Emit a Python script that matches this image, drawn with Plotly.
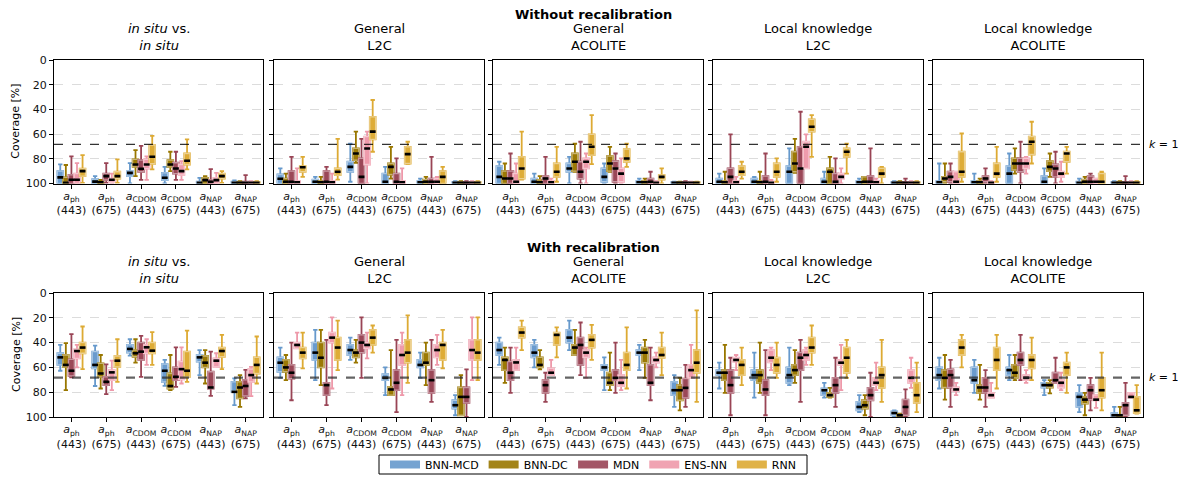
import plotly.graph_objects as go

# ---------------------------------------------------------------- labels
CATEGORIES = [
    "<i>a</i><sub>ph</sub><br>(443)",
    "<i>a</i><sub>ph</sub><br>(675)",
    "<i>a</i><sub>CDOM</sub><br>(443)",
    "<i>a</i><sub>CDOM</sub><br>(675)",
    "<i>a</i><sub>NAP</sub><br>(443)",
    "<i>a</i><sub>NAP</sub><br>(675)",
]
MODELS = ["BNN-MCD", "BNN-DC", "MDN", "ENS-NN", "RNN"]
COLORS = ["#6699CC", "#997700", "#994455", "#EE99AA", "#DDAA33"]
COLUMN_TITLES = [
    "<i>in situ</i> vs.<br><i>in situ</i>",
    "General<br>L2C",
    "General<br>ACOLITE",
    "Local knowledge<br>L2C",
    "Local knowledge<br>ACOLITE",
]
ROW_TITLES = ["Without recalibration", "With recalibration"]
Y_TICKS = [0, 20, 40, 60, 80, 100]
K1_COVERAGE = 68.27  # expected coverage of a 1-sigma interval

# ------------------------------------------------ coverage statistics [%]
# one list per model (order of MODELS), one tuple per category:
# (lower whisker, Q1, median, Q3, upper whisker)

raw_insitu = [
    [(84.5, 90, 95, 100, 100), (94, 96.5, 98.5, 100, 100), (83.5, 90, 91.4, 94, 100), (86.5, 91.4, 95.4, 97.3, 100), (95.4, 98.5, 99.5, 100, 100), (97.5, 98.5, 99.5, 100, 100)],
    [(85, 95, 99.5, 100, 100), (97, 98.6, 99, 100, 100), (73, 80.5, 84.6, 86.5, 94), (74.3, 81, 84.6, 86.5, 90), (94, 95.5, 97.3, 100, 100), (98, 99, 99.5, 100, 100)],
    [(78, 93, 97, 100, 100), (83.5, 92, 94, 97, 99.5), (69.5, 81, 88, 90.5, 97), (74.3, 83.2, 87.8, 92, 97), (88.4, 97, 98.6, 100, 100), (93.2, 98.5, 99.5, 100, 100)],
    [(83.5, 92, 97, 100, 100), (92, 96, 97, 99, 100), (78, 80.5, 84.6, 88, 97), (82, 84.6, 90, 93, 97), (91.4, 95.4, 97.3, 100, 100), (98, 99, 99.5, 100, 100)],
    [(77, 88, 90, 94, 99.5), (80.5, 90.5, 94, 96, 99.5), (61.4, 69, 78.4, 84, 88.6), (64.3, 75.7, 81.6, 84.6, 88.6), (90, 92, 94, 96, 99.5), (98, 99, 99.5, 100, 100)],
]
raw_general_l2c = [
    [(87.8, 92.7, 96.2, 100, 100), (94.6, 96.8, 98.6, 100, 100), (67.8, 82.4, 86.5, 90.5, 98.6), (86.5, 92, 98.6, 100, 100), (96, 98, 99, 100, 100), (98, 99, 99.5, 100, 100)],
    [(92, 96, 98.6, 100, 100), (94.6, 98, 99, 100, 100), (58, 71.6, 75.7, 81, 83.2), (70.3, 83.8, 86.5, 92.7, 96), (94.6, 96.8, 98.6, 100, 100), (98, 99, 99.5, 100, 100)],
    [(78.4, 90, 98.6, 100, 100), (86.5, 90, 98.6, 100, 100), (63.8, 79.7, 94.6, 100, 100), (79.7, 92, 98.6, 100, 100), (78.4, 96, 98.6, 100, 100), (98, 99, 99.5, 100, 100)],
    [(87.8, 98, 99, 100, 100), (92, 98, 99, 100, 100), (58, 62, 71.6, 84.6, 100), (87.8, 98, 99, 100, 100), (94.6, 96, 98.6, 100, 100), (98, 99, 99.5, 100, 100)],
    [(78.4, 86, 86.8, 90.5, 94.6), (63.8, 87.8, 90.5, 93.2, 96.8), (32.4, 46, 58, 64.3, 74.3), (66.2, 70.3, 76.2, 83.8, 84.3), (86.5, 90, 94.6, 100, 100), (98, 99, 99.5, 100, 100)],
]
raw_general_acolite = [
    [(82.4, 86, 94.6, 100, 100), (92, 96, 98.6, 100, 100), (78.4, 83.8, 87.8, 90.5, 100), (83.8, 87.8, 94.6, 98.6, 100), (96, 98, 99, 100, 100), (98.5, 99, 99.5, 100, 100)],
    [(83.8, 90, 96, 100, 100), (94, 97, 99, 100, 100), (67.8, 75.7, 82.4, 90, 90.5), (70.3, 77.8, 83.8, 90, 90.5), (96, 98, 99, 100, 100), (98.5, 99, 99.5, 100, 100)],
    [(75.7, 90, 96, 100, 100), (78.4, 94, 96, 100, 100), (66.2, 82.4, 90.5, 96, 100), (75.7, 82, 87.8, 98.6, 100), (90.5, 96, 98.6, 100, 100), (98, 99, 99.5, 100, 100)],
    [(83.8, 92, 98.6, 100, 100), (96, 98, 99, 100, 100), (75.7, 79.7, 82.4, 87.8, 100), (79.7, 87.8, 92, 98.6, 100), (98, 99, 99.5, 100, 100), (98.5, 99, 99.5, 100, 100)],
    [(58, 78.4, 87.8, 96, 96.8), (70.3, 83.8, 90.5, 94.6, 98.6), (44.6, 60.3, 70.3, 77, 84.3), (67.8, 72.2, 79.7, 82.4, 86.5), (87.8, 93.2, 94.6, 96.8, 100), (98.5, 99, 99.5, 100, 100)],
]
raw_local_l2c = [
    [(92, 96, 98.6, 100, 100), (94.6, 96, 98.6, 100, 100), (71.6, 86, 90.5, 100, 100), (90.5, 96, 98.6, 100, 100), (96, 98, 99, 100, 100), (98, 99, 99.5, 100, 100)],
    [(90.5, 98, 99, 100, 100), (90.5, 98, 99, 100, 100), (63.8, 74.3, 83.8, 90.5, 91.4), (78.4, 87.8, 90.5, 100, 100), (94.6, 94.6, 98.6, 100, 100), (98, 99, 99.5, 100, 100)],
    [(60.3, 87.8, 94.6, 100, 100), (75.7, 94, 98.6, 100, 100), (41.9, 70.3, 87.8, 100, 100), (79.7, 92, 98.6, 100, 100), (71.6, 94, 98.6, 100, 100), (96, 99, 99.5, 100, 100)],
    [(94.6, 98, 99, 100, 100), (97, 98.5, 99.5, 100, 100), (60.3, 66.2, 70.3, 87.8, 87.8), (87.8, 92, 94.6, 96, 100), (96, 98, 99, 100, 100), (98, 99, 99.5, 100, 100)],
    [(82.4, 86, 90.5, 93.2, 96), (79.7, 83.8, 90.5, 94.6, 98.6), (44.6, 48, 54, 58, 78.4), (67.8, 71.6, 74.3, 78.4, 92), (86.5, 87.8, 92, 94.6, 100), (98, 99, 99.5, 100, 100)],
]
raw_local_acolite = [
    [(83.8, 98, 99, 100, 100), (92, 98, 99, 100, 100), (75.7, 86, 92, 100, 100), (87.8, 94, 98.6, 100, 100), (96, 98.5, 99.5, 100, 100), (98, 99, 99.5, 100, 100)],
    [(83.8, 94.6, 96, 98.6, 100), (96, 98, 99, 100, 100), (71.6, 79.7, 83.8, 89, 92), (75.7, 81.9, 86.5, 90, 94.6), (94.6, 96.8, 98.6, 100, 100), (98, 99, 99.5, 100, 100)],
    [(83.8, 90.5, 94.6, 98.6, 100), (87.8, 94, 96, 98.6, 100), (66.2, 79.7, 83.8, 90.5, 100), (74.3, 84.6, 87.8, 94.6, 100), (92, 94, 98.6, 100, 100), (94, 99, 99.5, 100, 100)],
    [(90.5, 90.5, 98.6, 100, 100), (98, 99, 99.5, 100, 100), (78.4, 79.7, 83.8, 87.8, 92), (82.4, 90.5, 92, 94.6, 98.6), (96, 96, 98.6, 100, 100), (98, 99, 99.5, 100, 100)],
    [(59.5, 74.3, 90.5, 94.6, 98.6), (70.3, 83.8, 92, 94.6, 98.6), (50, 62, 66.2, 76.5, 83.8), (70.3, 74.3, 75.7, 82.4, 92), (90.5, 92, 98.6, 100, 100), (98, 99, 99.5, 100, 100)],
]

recal_insitu = [
    [(41.9, 48.6, 51.9, 58, 62.7), (42.4, 47.3, 58, 60.8, 75), (37.3, 41.9, 45.1, 48.1, 50.5), (54, 57.3, 62.7, 71.6, 74.9), (46, 50, 51.9, 55.4, 66.2), (68.9, 71.6, 79.7, 79.7, 90.5)],
    [(40.5, 50, 58, 59.5, 78.4), (50, 56.8, 64.9, 67.6, 77), (37.3, 46, 48.6, 51.4, 56.2), (50, 64.9, 75, 77, 78.4), (46, 50.8, 56.2, 60, 73), (66.2, 71.6, 76.2, 85, 91.9)],
    [(33.2, 53.5, 62.7, 66.8, 68.1), (57.6, 67.6, 71.6, 74.3, 81.6), (34.6, 40, 47.3, 54, 67.6), (43.8, 60, 67.6, 70.3, 75.7), (47.3, 63.5, 76.2, 77, 83), (62, 70, 75, 83, 85)],
    [(41.9, 45.4, 46.8, 52.7, 60), (54.6, 62.2, 64, 70.3, 78.4), (37.3, 41.9, 43.8, 48.6, 58), (43.8, 55.4, 61.4, 69.7, 73), (48.6, 52.7, 54.6, 59.5, 59.5), (59.5, 61.4, 66.2, 71.6, 83.2)],
    [(27, 40, 44, 48.6, 61.4), (37.3, 50.8, 54.6, 59.5, 71.6), (31.6, 40, 46.5, 48.6, 58), (30.3, 47.3, 62.7, 67.6, 71.6), (33.8, 44, 46.8, 51.4, 61.4), (35.1, 51.9, 58, 64.9, 73)],
]
recal_general_l2c = [
    [(44, 51.9, 56.2, 63.5, 68.4), (29.7, 40, 48.1, 54, 70.3), (36, 41.9, 46, 50, 54), (60, 65.4, 68.4, 70.3, 82.4), (48.1, 54, 58, 60, 68.4), (82.4, 86.5, 90.5, 93.2, 98.6)],
    [(50, 54, 60, 63.5, 70.3), (29.7, 40, 52.2, 60, 74.3), (37.8, 46, 48.1, 51.9, 56.2), (46, 75.7, 77.8, 82.4, 82.4), (40, 48.1, 56.2, 58, 74.3), (66.2, 76.2, 83.8, 98.6, 98.6)],
    [(40, 58, 64.3, 69, 86.5), (37.8, 72.4, 74.3, 82.4, 90.5), (19.7, 33.8, 40, 48.1, 68.4), (37.8, 62.2, 72.4, 78.4, 96), (37.8, 62.2, 70.3, 80.5, 87.8), (61.6, 76.2, 83.8, 88.6, 100)],
    [(31.9, 40, 41.9, 44.6, 44.6), (19.7, 31.9, 36, 40, 77), (31.9, 40, 41.9, 44.6, 52.7), (31.9, 41.9, 50, 58, 82.4), (33.8, 41.9, 46, 51.9, 58), (19.7, 37.8, 46, 54, 70.3)],
    [(31.9, 44, 48.1, 52.7, 60.8), (22.2, 36, 44, 54, 62.2), (26.2, 29.7, 36, 41.9, 48.1), (18.1, 37.8, 48.1, 56.2, 72.4), (29.7, 40, 41.9, 54, 60.8), (19.7, 37.8, 48.1, 54, 70.3)],
]
recal_general_acolite = [
    [(36, 40, 46, 50, 58), (37.8, 41.9, 48.1, 51.9, 60), (22.2, 29.7, 36, 40, 46), (51.9, 58, 60, 62.2, 78.4), (41.9, 46, 48.1, 50, 62.2), (66.2, 71.6, 78.4, 82.4, 91.9)],
    [(44, 51.9, 54, 62.2, 72.4), (46, 51.9, 58, 60, 61.6), (29.7, 41.9, 44, 50, 50), (48.1, 64.3, 72.4, 74.3, 78.4), (37.8, 44, 48.1, 56.2, 68.4), (68.4, 74.3, 78.4, 86.5, 94.6)],
    [(44, 55.4, 64.3, 70.3, 80.5), (64.3, 70.3, 74.3, 80.5, 87.8), (23.8, 36, 41.9, 58, 66.2), (40, 62.2, 68.4, 70.3, 80.5), (44, 58, 72.4, 74.3, 86.5), (58, 69, 76.5, 84.6, 91.9)],
    [(44, 54, 56, 62.2, 62.2), (54, 60.8, 64.3, 66.2, 66.2), (44, 46, 48.1, 51.9, 68.4), (54, 66.2, 72.4, 75.1, 78.4), (48.1, 51.9, 54, 56.2, 60), (41.9, 58, 62.2, 68.4, 68.4)],
    [(22.2, 27.8, 31.9, 36, 46), (27.8, 31.9, 33.8, 41.9, 51.9), (25.7, 33.8, 37.8, 44, 54), (27.8, 48.1, 58, 62.2, 77), (31.9, 44, 50, 52.2, 66.2), (14, 46, 56.2, 64.3, 87.8)],
]
recal_local_l2c = [
    [(56.2, 62.2, 64.3, 66.2, 77), (48.1, 62.2, 66.2, 70.3, 84.3), (44, 60, 66.2, 72.4, 74.3), (72.4, 77, 78.4, 82.4, 84.3), (82.4, 87.8, 91.9, 94.6, 96), (94.6, 95.4, 96.8, 98.6, 100)],
    [(41.9, 62.2, 64.3, 70.3, 80.5), (40, 62.2, 66.2, 72.4, 80.5), (46, 58, 62.2, 66.2, 72.4), (76.5, 80.5, 82.4, 83.8, 84.3), (82.4, 86.5, 90.5, 93.2, 98.6), (97.3, 98, 98.6, 99, 100)],
    [(52.2, 62.2, 74.3, 80.5, 98.6), (46, 70.3, 77.8, 82.4, 98.6), (37.8, 48.1, 52.2, 62.2, 87.8), (52.2, 68.4, 74.3, 80.5, 91.9), (64.3, 76.5, 82.4, 86.5, 100), (77.8, 86, 91.9, 98.6, 100)],
    [(50, 52.2, 54, 55.4, 62.2), (44, 46, 52.2, 56, 62.2), (44, 46, 50, 54, 58), (41.9, 54, 56.2, 58, 78.4), (56.2, 68.4, 72.4, 74.3, 78.4), (52.2, 62.2, 68.4, 72.4, 76.5)],
    [(44, 54, 58, 66.2, 74.3), (40, 52.2, 58, 64.3, 68.4), (26.2, 36, 44, 48.1, 58), (37.8, 44, 52.2, 64.3, 68.4), (37.8, 60, 66.2, 76.5, 87.8), (56.2, 72.4, 82.4, 88.6, 96)],
]
recal_local_acolite = [
    [(52.2, 60, 66.2, 70.3, 77), (54, 60, 70.3, 72.4, 80.5), (50, 60, 62.2, 66.2, 70.3), (70.3, 72.4, 74.3, 76.2, 82.4), (74.3, 80.5, 83.8, 91.9, 96), (91.9, 96.8, 98.6, 99.5, 100)],
    [(50, 62.2, 68.4, 76.2, 86), (58, 74.3, 76.2, 80.5, 86), (50, 58, 64.3, 68.4, 70.3), (70.3, 72.4, 74.3, 76.2, 81), (80.5, 83.8, 86, 89.2, 98.6), (91.9, 98.6, 98.6, 99, 99.5)],
    [(54, 61.6, 66.2, 76.2, 91.9), (62.2, 68.4, 76.2, 80.5, 91.9), (33.8, 48.1, 54, 58, 70.3), (52.2, 64.3, 70.3, 72.4, 72.4), (68.4, 74.3, 78.4, 86, 94.6), (72.4, 88.6, 90.5, 98.6, 100)],
    [(72.4, 76.2, 77.8, 78.9, 82.4), (72.4, 80.5, 82.4, 84.3, 84.3), (62.2, 66.2, 68.4, 70.3, 72.4), (64.3, 70.3, 72.4, 76.2, 78.4), (82.4, 82.4, 86, 86.5, 92.7), (80.5, 80.5, 83.8, 84.3, 84.3)],
    [(33.8, 37.8, 44, 50, 60), (33.8, 44, 54, 62.2, 77), (36, 50, 54, 60.8, 70.3), (48.1, 56.2, 60, 66.2, 80.5), (48.1, 68.4, 78.4, 84.3, 94.6), (74.3, 83.8, 94.6, 96.8, 97.3)],
]

PANELS = [
    [raw_insitu, raw_general_l2c, raw_general_acolite, raw_local_l2c, raw_local_acolite],
    [recal_insitu, recal_general_l2c, recal_general_acolite, recal_local_l2c, recal_local_acolite],
]

# ---------------------------------------------------------------- layout
W, H = 1180, 477
COL_PX = [(54, 263), (274, 484), (493, 703), (713, 923), (933, 1143)]
ROW_PX = [(60, 183.5), (293, 417)]
LEGEND_FRAME_PX = (379, 455, 807, 474)  # left, top, right, bottom
MODEL_STEP = 0.16
BOX_WIDTH = 0.165
FONT = "DejaVu Sans"


def rgba(hex_color, alpha):
    h = hex_color.lstrip("#")
    r, g, b = int(h[0:2], 16), int(h[2:4], 16), int(h[4:6], 16)
    return f"rgba({r},{g},{b},{alpha})"


def tint(hex_color, amount):
    """Blend a colour towards white."""
    h = hex_color.lstrip("#")
    rgb = [int(h[i:i + 2], 16) for i in (0, 2, 4)]
    r, g, b = [round(v + (255 - v) * amount) for v in rgb]
    return f"rgb({r},{g},{b})"


def axis_id(letter, idx):
    return letter if idx == 1 else f"{letter}{idx}"


fig = go.Figure()
layout = {}
annotations = []
shapes = []

for r, row_panels in enumerate(PANELS):
    top, bottom = ROW_PX[r]
    for c, panel in enumerate(row_panels):
        idx = r * 5 + c + 1
        xs, ys = axis_id("x", idx), axis_id("y", idx)
        xkey = "xaxis" if idx == 1 else f"xaxis{idx}"
        ykey = "yaxis" if idx == 1 else f"yaxis{idx}"
        left, right = COL_PX[c]
        layout[xkey] = dict(
            domain=[left / W, right / W], anchor=ys, range=[-0.5, 5.5],
            tickmode="array", tickvals=list(range(len(CATEGORIES))), ticktext=CATEGORIES,
            showgrid=False, zeroline=False, showline=True, mirror=True,
            linecolor="black", linewidth=1, ticks="outside", ticklen=4,
            tickcolor="black", ticklabelstandoff=-2,
            tickfont=dict(size=11, color="#111", family=FONT),
        )
        layout[ykey] = dict(
            domain=[1 - bottom / H, 1 - top / H], anchor=xs, range=[100, 0],
            tickmode="array", tickvals=Y_TICKS, showticklabels=(c == 0),
            showgrid=True, gridcolor="#dcdcdc", griddash="dash", gridwidth=0.8,
            zeroline=False, showline=True, mirror=True, linecolor="black",
            linewidth=1, ticks="outside", ticklen=4, tickcolor="black",
            tickfont=dict(size=11, color="#111", family=FONT),
        )

        for m, stats in enumerate(panel):
            pos = [i + (m - 2) * MODEL_STEP for i in range(len(stats))]
            lo = [s[0] for s in stats]
            q1 = [s[1] for s in stats]
            med = [s[2] for s in stats]
            q3 = [s[3] for s in stats]
            hi = [s[4] for s in stats]
            # whiskers and box body
            fig.add_trace(go.Box(
                x=pos, q1=q1, median=med, q3=q3, lowerfence=lo, upperfence=hi,
                orientation="v", width=BOX_WIDTH, whiskerwidth=0.75,
                fillcolor=rgba(COLORS[m], 0.85),
                line=dict(color=COLORS[m], width=1.8),
                boxpoints=False, hoverinfo="skip", showlegend=False,
                xaxis=xs, yaxis=ys,
            ))
            # lighter box edge drawn over the body
            fig.add_trace(go.Box(
                x=pos, q1=q1, median=med, q3=q3, lowerfence=q1, upperfence=q3,
                orientation="v", width=BOX_WIDTH, whiskerwidth=0,
                fillcolor=rgba(COLORS[m], 0.85),
                line=dict(color=tint(COLORS[m], 0.45), width=1.3),
                boxpoints=False, hoverinfo="skip", showlegend=False,
                xaxis=xs, yaxis=ys,
            ))
            fig.add_trace(go.Scatter(
                x=pos, y=med, mode="markers", hoverinfo="skip", showlegend=False,
                marker=dict(symbol="line-ew", size=4.2, color="black",
                            line=dict(color="black", width=2.6)),
                xaxis=xs, yaxis=ys,
            ))

        # 1-sigma reference coverage
        shapes.append(dict(
            type="line", xref=f"{xs} domain", x0=0, x1=1, yref=ys,
            y0=K1_COVERAGE, y1=K1_COVERAGE, layer="above",
            line=dict(color="black" if r == 0 else "rgba(40,40,40,0.72)",
                      width=1 if r == 0 else 2.2, dash="dash"),
        ))

        annotations.append(dict(
            text=COLUMN_TITLES[c], xref="paper", yref="paper",
            x=(left + right) / 2 / W, y=1 - (top - 5) / H,
            xanchor="center", yanchor="bottom", showarrow=False,
            font=dict(size=13, color="black", family=FONT),
        ))

    annotations.append(dict(
        text=f"<b>{ROW_TITLES[r]}</b>", xref="paper", yref="paper",
        x=593 / W, y=1 - (15 if r == 0 else 248) / H,
        xanchor="center", yanchor="middle", showarrow=False,
        font=dict(size=13, color="black", family=FONT),
    ))
    annotations.append(dict(
        text="Coverage [%]", xref="paper", yref="paper",
        x=16 / W, y=1 - (top + bottom) / 2 / H, textangle=-90,
        xanchor="center", yanchor="middle", showarrow=False,
        font=dict(size=11, color="black", family=FONT),
    ))
    annotations.append(dict(
        text="<i>k</i> = 1", xref="paper", yref=axis_id("y", r * 5 + 5),
        x=1147 / W, y=K1_COVERAGE, xanchor="left", yanchor="middle",
        showarrow=False, font=dict(size=11, color="black", family=FONT),
    ))

# legend entries
for name, color in zip(MODELS, COLORS):
    fig.add_trace(go.Scatter(
        x=[None], y=[None], mode="lines", name=name,
        line=dict(color=rgba(color, 0.9), width=8), xaxis="x", yaxis="y",
    ))

# thin frame around the legend
fl, ft, fr, fb = LEGEND_FRAME_PX
shapes.append(dict(
    type="rect", xref="paper", yref="paper",
    x0=fl / W, x1=fr / W, y0=1 - fb / H, y1=1 - ft / H,
    line=dict(color="black", width=1), fillcolor="rgba(0,0,0,0)", layer="above",
))

fig.update_layout(
    width=W, height=H,
    margin=dict(l=0, r=0, t=0, b=0, autoexpand=False),
    paper_bgcolor="white", plot_bgcolor="white",
    font=dict(family=FONT, color="black"),
    showlegend=True,
    legend=dict(
        orientation="h", x=593 / W, xanchor="center",
        y=1 - (ft + fb) / 2 / H, yanchor="middle", borderwidth=0,
        font=dict(size=11, family=FONT), itemwidth=30,
        bgcolor="rgba(255,255,255,0)",
    ),
    annotations=annotations,
    shapes=shapes,
    **layout,
)

fig.write_html("out.html")
